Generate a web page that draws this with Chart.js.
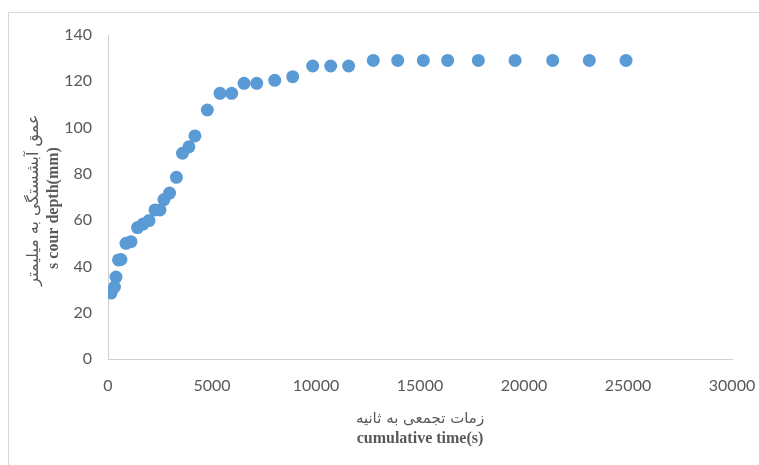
<!DOCTYPE html>
<html>
<head>
<meta charset="utf-8">
<script src="https://cdn.jsdelivr.net/npm/chart.js@4/dist/chart.umd.min.js"></script>
<style>
html,body{margin:0;padding:0;background:#fff;}
#wrap{position:relative;width:759px;height:465px;}
</style>
</head>
<body>
<div id="wrap"><canvas id="c" width="759" height="465"></canvas></div>
<script>
const timeSeconds = [145, 310, 385, 505, 625, 865, 1105, 1420, 1685, 1970, 2260, 2500, 2690, 2960, 3290, 3580, 3890, 4180, 4775, 5385, 5945, 6540, 7150, 8015, 8880, 9840, 10705, 11570, 12755, 13930, 15160, 16330, 17805, 19570, 21380, 23140, 24905];
const scourDepth = [28.5, 31.1, 35.4, 42.8, 43.0, 50.0, 50.7, 56.8, 58.3, 59.8, 64.4, 64.4, 68.9, 71.7, 78.5, 88.9, 91.7, 96.4, 107.6, 114.8, 114.8, 119.1, 119.1, 120.4, 122.0, 126.6, 126.6, 126.6, 129.0, 129.0, 129.0, 129.0, 129.0, 129.0, 129.0, 129.0, 129.0];
const xTitleFa = 'زمات تجمعی به ثانیه';
const xTitleEn = 'cumulative time(s)';
const yTitleFa = 'عمق آبشستگی به میلیمتر';
const yTitleEn = 's cour depth(mm)';

const points = timeSeconds.map((t, i) => ({x: t, y: scourDepth[i]}));

const titlesPlugin = {
  id: 'titles',
  beforeDraw(chart) {
    const ctx = chart.ctx;
    ctx.save();
    ctx.strokeStyle = '#D9D9D9';
    ctx.lineWidth = 1;
    ctx.strokeRect(8.5, 12.5, 800, 500);
    ctx.restore();
  },
  afterDraw(chart) {
    const ctx = chart.ctx;
    const a = chart.chartArea;
    const cx = (a.left + a.right) / 2;
    const cy = (a.top + a.bottom) / 2;
    ctx.save();
    ctx.fillStyle = '#595959';
    ctx.textAlign = 'center';
    ctx.textBaseline = 'middle';
    ctx.font = '15px "DejaVu Sans", "Liberation Serif", serif';
    ctx.fillText(xTitleFa, cx, a.bottom + 60);
    ctx.font = 'bold 16px "Liberation Serif", serif';
    ctx.fillText(xTitleEn, cx, a.bottom + 80);
    ctx.translate(34, cy + 1);
    ctx.rotate(-Math.PI / 2);
    ctx.font = '16px "DejaVu Sans", "Liberation Serif", serif';
    ctx.fillText(yTitleFa, -2, 0);
    ctx.font = 'bold 16px "Liberation Serif", serif';
    ctx.fillText(yTitleEn, -10, 20);
    ctx.restore();
  }
};

new Chart(document.getElementById('c'), {
  type: 'scatter',
  data: {
    datasets: [{
      data: points,
      backgroundColor: '#5B9BD5',
      borderColor: '#5B9BD5',
      borderWidth: 0,
      pointRadius: 6.5,
      pointHoverRadius: 6.5
    }]
  },
  options: {
    responsive: false,
    animation: false,
    events: [],
    layout: { padding: { left: 0, right: 27, top: 35, bottom: 0 } },
    plugins: { legend: { display: false }, tooltip: { enabled: false } },
    scales: {
      x: {
        type: 'linear',
        min: 0, max: 30000,
        afterFit(s) { s.height = 106; s.paddingRight = 0; s.paddingLeft = 0; },
        ticks: { stepSize: 5000, padding: 17, color: '#595959', font: { family: 'Lato', size: 16 }, maxRotation: 0, callback: v => String(v) },
        grid: { color: 'rgba(0,0,0,0)', drawTicks: false },
        border: { display: true, color: '#D0D0D0', width: 1 }
      },
      y: {
        type: 'linear',
        min: 0, max: 140,
        afterFit(s) { s.width = 108; s.paddingTop = 0; s.paddingBottom = 0; },
        ticks: { stepSize: 20, padding: 16, color: '#595959', font: { family: 'Lato', size: 16 }, callback: v => String(v) },
        grid: { color: 'rgba(0,0,0,0)', drawTicks: false },
        border: { display: true, color: '#D0D0D0', width: 1 }
      }
    }
  },
  plugins: [titlesPlugin]
});
</script>
</body>
</html>
